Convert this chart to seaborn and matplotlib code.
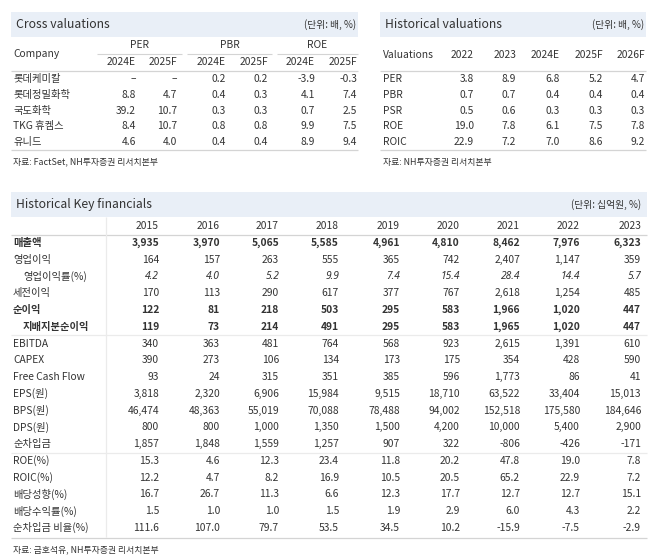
import matplotlib
matplotlib.use("Agg")
import matplotlib.pyplot as plt
from matplotlib.patches import Rectangle
import seaborn as sns
import pandas as pd

# --- Cross valuations ---
cross_companies = ["롯데케미칼", "롯데정밀화학", "국도화학", "TKG 휴켐스", "유니드"]
cross_groups = ["PER", "PBR", "ROE"]
cross_subcols = ["2024E", "2025F"]
per_2024 = [None, 8.8, 39.2, 8.4, 4.6]
per_2025 = [None, 4.7, 10.7, 10.7, 4.0]
pbr_2024 = [0.2, 0.4, 0.3, 0.8, 0.4]
pbr_2025 = [0.2, 0.3, 0.3, 0.8, 0.4]
roe_2024 = [-3.9, 4.1, 0.7, 9.9, 8.9]
roe_2025 = [-0.3, 7.4, 2.5, 7.5, 9.4]

# --- Historical valuations ---
val_metrics = ["PER", "PBR", "PSR", "ROE", "ROIC"]
val_years = ["2022", "2023", "2024E", "2025F", "2026F"]
val_per = [3.8, 8.9, 6.8, 5.2, 4.7]
val_pbr = [0.7, 0.7, 0.4, 0.4, 0.4]
val_psr = [0.5, 0.6, 0.3, 0.3, 0.3]
val_roe = [19.0, 7.8, 6.1, 7.5, 7.8]
val_roic = [22.9, 7.2, 7.0, 8.6, 9.2]

# --- Historical key financials ---
fin_years = ["2015", "2016", "2017", "2018", "2019", "2020", "2021", "2022", "2023"]
fin_labels = ["매출액", "영업이익", "영업이익률(%)", "세전이익", "순이익", "지배지분순이익",
              "EBITDA", "CAPEX", "Free Cash Flow", "EPS(원)", "BPS(원)", "DPS(원)",
              "순차입금", "ROE(%)", "ROIC(%)", "배당성향(%)", "배당수익률(%)", "순차입금 비율(%)"]
sales = [3935, 3970, 5065, 5585, 4961, 4810, 8462, 7976, 6323]
op_income = [164, 157, 263, 555, 365, 742, 2407, 1147, 359]
op_margin = [4.2, 4.0, 5.2, 9.9, 7.4, 15.4, 28.4, 14.4, 5.7]
pretax = [170, 113, 290, 617, 377, 767, 2618, 1254, 485]
net_income = [122, 81, 218, 503, 295, 583, 1966, 1020, 447]
ni_controlling = [119, 73, 214, 491, 295, 583, 1965, 1020, 447]
ebitda = [340, 363, 481, 764, 568, 923, 2615, 1391, 610]
capex = [390, 273, 106, 134, 173, 175, 354, 428, 590]
fcf = [93, 24, 315, 351, 385, 596, 1773, 86, 41]
eps = [3818, 2320, 6906, 15984, 9515, 18710, 63522, 33404, 15013]
bps = [46474, 48363, 55019, 70088, 78488, 94002, 152518, 175580, 184646]
dps = [800, 800, 1000, 1350, 1500, 4200, 10000, 5400, 2900]
net_debt = [1857, 1848, 1559, 1257, 907, 322, -806, -426, -171]
roe = [15.3, 4.6, 12.3, 23.4, 11.8, 20.2, 47.8, 19.0, 7.8]
roic = [12.2, 4.7, 8.2, 16.9, 10.5, 20.5, 65.2, 22.9, 7.2]
payout = [16.7, 26.7, 11.3, 6.6, 12.3, 17.7, 12.7, 12.7, 15.1]
div_yield = [1.5, 1.0, 1.0, 1.5, 1.9, 2.9, 6.0, 4.3, 2.2]
net_debt_ratio = [111.6, 107.0, 79.7, 53.5, 34.5, 10.2, -15.9, -7.5, -2.9]

fin = pd.DataFrame([sales, op_income, op_margin, pretax, net_income, ni_controlling,
                    ebitda, capex, fcf, eps, bps, dps, net_debt, roe, roic, payout,
                    div_yield, net_debt_ratio], index=fin_labels, columns=fin_years)
int_rows = {"매출액", "영업이익", "세전이익", "순이익", "지배지분순이익", "EBITDA", "CAPEX",
            "Free Cash Flow", "EPS(원)", "BPS(원)", "DPS(원)", "순차입금"}
bold_rows = {"매출액", "순이익", "지배지분순이익"}
indent_rows = {"영업이익률(%)", "지배지분순이익"}
italic_row = "영업이익률(%)"

sns.set_theme(style="white")
plt.rcParams["font.family"] = ["Noto Sans CJK KR", "DejaVu Sans"]

TXT = "#333333"
BAND = "#E9EFF7"
LINE = "#D4D4D4"
SEP = "#EBEBEB"
FS = 7.4

fig = plt.figure(figsize=(6.7, 5.57), dpi=100)
ax = fig.add_axes([0, 0, 1, 1])
ax.set_xlim(0, 670)
ax.set_ylim(557, 0)
ax.axis("off")


def fmt1(v):
    return "\u2013" if v is None else f"{v:.1f}"


def band(x0, x1, y0, y1, title, unit=None, unit_x=None):
    ax.add_patch(Rectangle((x0, y0), x1 - x0, y1 - y0, color=BAND, lw=0))
    ax.text(x0 + 5, (y0 + y1) / 2, title, fontsize=8.8, color=TXT, va="center", ha="left")
    if unit:
        ax.text(unit_x, (y0 + y1) / 2, unit, fontsize=7, color=TXT, va="center", ha="right")


# ---------------- Cross valuations ----------------
band(11, 358, 12, 37, "Cross valuations", "(단위: 배, %)", 356)
cross_right = [136, 177, 226, 268, 315, 357]
group_spans = [(97, 182), (187, 272), (277, 358)]
for g, (a, b) in zip(cross_groups, group_spans):
    ax.text((a + b) / 2, 45, g, fontsize=FS, color=TXT, ha="center", va="center")
    ax.hlines(53.5, a, b, color=LINE, lw=0.8)
for j, x in enumerate(cross_right):
    ax.text(x, 62, cross_subcols[j % 2], fontsize=FS, color=TXT, ha="right", va="center")
ax.text(13, 54, "Company", fontsize=FS, color=TXT, ha="left", va="center")
ax.hlines(70.5, 11, 358, color=LINE, lw=0.9)
cross_cols = [per_2024, per_2025, pbr_2024, pbr_2025, roe_2024, roe_2025]
row_y0, row_step = 79, 15.8
for i, name in enumerate(cross_companies):
    y = row_y0 + i * row_step
    ax.text(13, y, name, fontsize=FS, color=TXT, ha="left", va="center")
    for x, col in zip(cross_right, cross_cols):
        ax.text(x, y, fmt1(col[i]), fontsize=FS, color=TXT, ha="right", va="center")
ax.hlines(150, 11, 358, color=LINE, lw=0.9)
ax.text(13, 162, "자료: FactSet, NH투자증권 리서치본부", fontsize=6.4, color=TXT, ha="left", va="center")

# ---------------- Historical valuations ----------------
band(380, 646, 12, 37, "Historical valuations", "(단위: 배, %)", 644)
val_right = [474, 516, 560, 603, 645]
ax.text(383, 55, "Valuations", fontsize=FS, color=TXT, ha="left", va="center")
for x, yr in zip(val_right, val_years):
    ax.text(x, 55, yr, fontsize=FS, color=TXT, ha="right", va="center")
ax.hlines(70.5, 380, 646, color=LINE, lw=0.9)
val_rows = [val_per, val_pbr, val_psr, val_roe, val_roic]
for i, (m, vals) in enumerate(zip(val_metrics, val_rows)):
    y = row_y0 + i * row_step
    ax.text(383, y, m, fontsize=FS, color=TXT, ha="left", va="center")
    for x, v in zip(val_right, vals):
        ax.text(x, y, fmt1(v), fontsize=FS, color=TXT, ha="right", va="center")
ax.hlines(150, 380, 646, color=LINE, lw=0.9)
ax.text(383, 162, "자료: NH투자증권 리서치본부", fontsize=6.4, color=TXT, ha="left", va="center")

# ---------------- Historical key financials ----------------
band(11, 647, 192, 217, "Historical Key financials", "(단위: 십억원, %)", 641)
fin_right = [159, 220, 279, 339, 400, 460, 520, 580, 641]
for x, yr in zip(fin_right, fin_years):
    ax.text(x, 226, yr, fontsize=FS, color=TXT, ha="right", va="center")
ax.hlines(235, 11, 647, color=LINE, lw=0.9)
f_y0, f_step = 243, 16.76
for i, label in enumerate(fin.index):
    y = f_y0 + i * f_step
    weight = "bold" if label in bold_rows else "normal"
    lx = 23 if label in indent_rows else 13
    ax.text(lx, y, label, fontsize=FS, color=TXT, ha="left", va="center", fontweight=weight)
    for x, v in zip(fin_right, fin.loc[label]):
        s = f"{v:,.0f}" if label in int_rows else f"{v:.1f}"
        if label == italic_row:
            # CJK family has no italic face; use a Latin family for the digits
            ax.text(x, y, s, fontsize=FS, color=TXT, ha="right", va="center",
                    fontstyle="italic", family=["Noto Sans", "DejaVu Sans"])
        else:
            ax.text(x, y, s, fontsize=FS, color=TXT, ha="right", va="center",
                    fontweight=weight)
for k in (5, 12):
    ax.hlines(f_y0 + (k + 0.5) * f_step, 11, 647, color=SEP, lw=0.9)
ax.vlines(105.5, 217, 537, color=SEP, lw=0.9)
ax.hlines(537.5, 11, 647, color=LINE, lw=0.9)
ax.text(13, 550, "자료: 금호석유, NH투자증권 리서치본부", fontsize=6.4, color=TXT, ha="left", va="center")

fig.savefig("out.png", dpi=100)
plt.close(fig)
